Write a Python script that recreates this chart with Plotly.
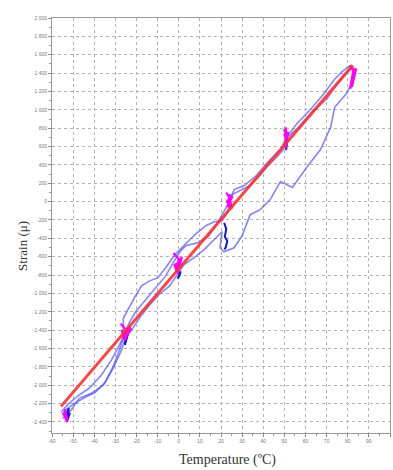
import plotly.graph_objects as go

# ---- data ----
fit_T = [-55.7, 82.4]
fit_S = [-2230, 1486]

run1_T = [-55.7, -52.9, -48.1, -42.4, -36.7, -31.9, -28.1, -25.2, -23.3, -20.5, -15.7, -11.0, -6.2, -2.4, 0.5, 3.3,
          9.0, 13.8, 17.6, 20.5, 23.3, 25.2, 29.0, 33.8, 37.6, 41.4, 46.2, 49.5, 51.4, 56.7, 63.3, 70.0, 74.8, 78.6, 82.4]
run1_S = [-2295, -2219, -2120, -2033, -1891, -1727, -1563, -1421, -1312, -1202, -1071, -951, -809, -656, -547, -481,
          -448, -383, -262, -142, -33, 77, 120, 175, 262, 372, 481, 568, 700, 809, 984, 1115, 1279, 1388, 1465]

run2_T = [-54.8, -51.0, -47.1, -41.4, -35.7, -31.0, -27.1, -25.2, -22.4, -18.6, -13.8, -9.0, -4.3, -1.0, 2.4, 7.1,
          11.9, 16.7, 20.5, 19.5, 21.4, 26.2, 30.0, 33.8, 38.6, 43.3, 48.1, 53.8, 60.5, 67.1, 71.9, 73.8, 79.5, 81.4]
run2_S = [-2361, -2273, -2142, -2088, -2000, -1814, -1618, -1486, -1399, -1268, -1126, -1006, -918, -798, -689, -612,
          -525, -415, -328, -503, -547, -503, -372, -142, -87, 22, 219, 153, 372, 568, 809, 1027, 1180, 1268]

run3_T = [-53.8, -50.0, -45.2, -39.5, -34.8, -31.0, -28.1, -26.2, -26.2, -23.3, -20.5, -17.6, -13.8, -10.0, -6.2, -2.9,
          -0.5, 3.3, 8.1, 12.9, 16.7, 20.5, 23.3, 24.3, 26.2, 31.0, 36.7, 42.4, 48.1, 51.0, 55.7, 62.4, 68.1, 73.8, 77.6, 81.4]
run3_S = [-2273, -2208, -2142, -2077, -1967, -1793, -1618, -1486, -1268, -1137, -1027, -918, -863, -831, -721, -612,
          -547, -459, -350, -262, -219, -208, -109, 22, 131, 175, 284, 437, 568, 700, 842, 1006, 1159, 1333, 1421, 1486]

# dwell clusters (magenta) at each temperature plateau
dwell_T = [
    [-54.5, -53.0, -54.0, -52.5, -53.5, -54.8, -52.8, -53.6, -54.2],
    [-27.5, -24.0, -26.5, -23.0, -25.5, -27.0, -24.5, -22.5, -26.0],
    [-2.5, 0.5, -1.5, 1.5, -0.5, -2.0, 1.0, -1.0, 0.0],
    [22.5, 24.5, 23.0, 25.5, 23.5, 24.0, 25.0, 22.8, 24.2],
    [49.8, 51.5, 50.2, 51.8, 50.5, 51.0, 49.9, 51.2, 50.6],
    [81.0, 83.5, 81.5, 84.0, 82.0, 83.0, 81.2, 82.8, 82.4],
]
dwell_S = [
    [-2290, -2350, -2260, -2390, -2320, -2300, -2400, -2340, -2280],
    [-1330, -1420, -1480, -1360, -1510, -1400, -1450, -1380, -1440],
    [-560, -640, -720, -600, -780, -690, -650, -740, -620],
    [100, 20, -60, 60, -20, 80, -80, 0, 40],
    [790, 700, 620, 760, 580, 680, 740, 650, 810],
    [1480, 1400, 1300, 1450, 1250, 1380, 1230, 1460, 1350],
]

# dark blue spots
dark_T = [[-53.5, -52.0, -53.0, -51.5, -52.5],
          [-26.0, -24.5, -25.5, -24.0],
          [-1.5, 0.5, -0.5, 1.0],
          [21.5, 22.5, 21.8, 23.0, 22.2, 21.6],
          [50.5, 51.5, 50.8]]
dark_S = [[-2330, -2250, -2400, -2300, -2360],
          [-1500, -1380, -1560, -1440],
          [-720, -800, -840, -760],
          [-230, -300, -380, -430, -500, -520],
          [620, 680, 560]]

x_ticks = list(range(-60, 101, 10))
y_ticks = list(range(-2400, 2001, 200))

fig = go.Figure()

blue = "rgba(80,80,255,0.7)"
for tx, sy in [(run1_T, run1_S), (run2_T, run2_S), (run3_T, run3_S)]:
    fig.add_trace(go.Scatter(x=tx, y=sy, mode="lines", line=dict(color=blue, width=1.6),
                             hoverinfo="skip", showlegend=False))

for tx, sy in zip(dark_T, dark_S):
    fig.add_trace(go.Scatter(x=tx, y=sy, mode="lines", line=dict(color="rgb(20,20,220)", width=2),
                             hoverinfo="skip", showlegend=False))

for tx, sy in zip(dwell_T, dwell_S):
    fig.add_trace(go.Scatter(x=tx, y=sy, mode="lines", line=dict(color="rgb(255,0,255)", width=2.2),
                             hoverinfo="skip", showlegend=False))

fig.add_trace(go.Scatter(x=fit_T, y=fit_S, mode="lines", line=dict(color="rgba(255,45,45,0.9)", width=3),
                         hoverinfo="skip", showlegend=False))

axis_common = dict(
    showgrid=True, gridcolor="#b4b4b4", griddash="dot", gridwidth=1,
    zeroline=False, showline=True, linecolor="#9a9a9a", linewidth=1, mirror=True,
    ticks="outside", ticklen=3, tickcolor="#888", tickwidth=1,
    tickfont=dict(size=5, color="#777", family="Liberation Sans"),
)

fig.update_xaxes(range=[-60, 100], tickvals=x_ticks, ticktext=[str(v) for v in x_ticks],
                 minor=dict(dtick=5, ticks="outside", ticklen=2, tickcolor="#999", showgrid=False),
                 **axis_common)
fig.update_yaxes(range=[-2520, 2000], tickvals=y_ticks,
                 ticktext=[(f"{v:,}".replace(",", " ")) for v in y_ticks],
                 minor=dict(dtick=100, ticks="outside", ticklen=2, tickcolor="#999", showgrid=False),
                 **axis_common)

fig.add_annotation(text="Strain (μ)", xref="paper", yref="paper", x=-0.115, y=0.45,
                   textangle=-90, showarrow=False,
                   font=dict(family="Liberation Serif", size=13, color="#333"))
fig.add_annotation(text="Temperature (ºC)", xref="paper", yref="paper", x=0.52, y=-0.066,
                   yanchor="middle", showarrow=False, borderpad=0,
                   font=dict(family="Liberation Serif", size=14, color="#333"))

fig.update_layout(
    width=393, height=470,
    margin=dict(l=52, r=3, t=18, b=37),
    paper_bgcolor="white", plot_bgcolor="white",
    showlegend=False,
)

fig.write_html("out.html")
